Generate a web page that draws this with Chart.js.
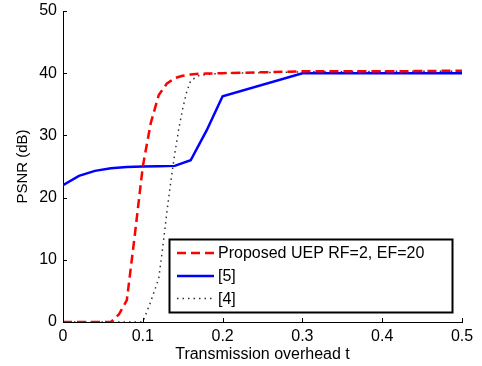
<!DOCTYPE html>
<html>
<head>
<meta charset="utf-8">
<script src="https://cdn.jsdelivr.net/npm/chart.js@4"></script>
<style>
  html, body { margin: 0; padding: 0; background: #fff; }
  #wrap { width: 482px; height: 366px; }
</style>
</head>
<body>
<div id="wrap"><canvas id="c" width="482" height="366"></canvas></div>
<script>
// ---- data ----
const xTicks = [0, 0.1, 0.2, 0.3, 0.4, 0.5];
const yTicks = [0, 10, 20, 30, 40, 50];

const proposedT    = [0, 0.02, 0.04, 0.06, 0.07, 0.08, 0.09, 0.10, 0.11, 0.12, 0.13, 0.14, 0.15, 0.16, 0.17, 0.18, 0.20, 0.30, 0.40, 0.50];
const proposedPSNR = [0, 0, 0, 0, 1.2, 3.5, 14, 25, 32, 36.5, 38.3, 39.2, 39.6, 39.8, 39.9, 39.95, 40.0, 40.3, 40.3, 40.4];

const ref5T    = [0, 0.02, 0.04, 0.06, 0.08, 0.10, 0.12, 0.14, 0.16, 0.18, 0.20, 0.30, 0.40, 0.50];
const ref5PSNR = [22, 23.5, 24.3, 24.7, 24.9, 25.0, 25.05, 25.1, 26.0, 30.8, 36.3, 40.0, 40.0, 40.0];

const ref4T    = [0, 0.05, 0.10, 0.11, 0.12, 0.125, 0.13, 0.135, 0.14, 0.145, 0.15, 0.155, 0.16, 0.17, 0.18, 0.20, 0.30, 0.40, 0.50];
const ref4PSNR = [0, 0, 0, 3.3, 7, 12, 17.5, 22.5, 27, 31, 34.3, 37, 38.8, 39.6, 39.8, 40.0, 40.2, 40.3, 40.3];

const seriesLabels = ['Proposed UEP RF=2, EF=20', '[5]', '[4]'];

const toPts = (xs, ys) => xs.map((x, i) => ({ x: x, y: ys[i] }));

const FONT = '"Liberation Sans", Arial, Helvetica, sans-serif';

// inward ticks, MATLAB-like
const inwardTicks = {
  id: 'inwardTicks',
  afterDatasetsDraw(chart) {
    const { ctx, chartArea: a, scales: { x, y } } = chart;
    ctx.save();
    ctx.strokeStyle = '#000';
    ctx.lineWidth = 1;
    ctx.beginPath();
    x.ticks.forEach(t => {
      const px = Math.round(x.getPixelForValue(t.value)) + 0.5;
      ctx.moveTo(px, a.bottom);
      ctx.lineTo(px, a.bottom - 4);
    });
    y.ticks.forEach(t => {
      const py = Math.round(y.getPixelForValue(t.value)) + 0.5;
      ctx.moveTo(a.left, py);
      ctx.lineTo(a.left + 4, py);
    });
    ctx.stroke();
    ctx.restore();
  }
};

// MATLAB-like legend box inside the axes
const boxLegend = {
  id: 'boxLegend',
  afterDatasetsDraw(chart) {
    const { ctx } = chart;
    const bx = 169.5, by = 239.5, bw = 283, bh = 73;
    ctx.save();
    ctx.fillStyle = '#fff';
    ctx.fillRect(bx, by, bw, bh);
    ctx.strokeStyle = '#000';
    ctx.lineWidth = 2;
    ctx.strokeRect(bx, by, bw, bh);
    const rows = [253, 276, 298.5];
    chart.data.datasets.forEach((ds, i) => {
      const yy = rows[i];
      ctx.beginPath();
      ctx.strokeStyle = ds.borderColor;
      ctx.lineWidth = ds.borderWidth;
      ctx.setLineDash(ds.borderDash || []);
      ctx.moveTo(177, yy);
      ctx.lineTo(214, yy);
      ctx.stroke();
      ctx.setLineDash([]);
      ctx.fillStyle = '#000';
      ctx.font = '16px ' + FONT;
      ctx.textBaseline = 'middle';
      ctx.textAlign = 'left';
      ctx.fillText(ds.label, 218, yy + 1);
    });
    ctx.restore();
  }
};

new Chart(document.getElementById('c'), {
  type: 'line',
  data: {
    datasets: [
      {
        label: seriesLabels[0],
        data: toPts(proposedT, proposedPSNR),
        borderColor: '#ff0000',
        borderWidth: 2.5,
        borderDash: [9, 5],
        pointRadius: 0,
        fill: false,
        tension: 0
      },
      {
        label: seriesLabels[1],
        data: toPts(ref5T, ref5PSNR),
        borderColor: '#0000ff',
        borderWidth: 2.5,
        pointRadius: 0,
        fill: false,
        tension: 0
      },
      {
        label: seriesLabels[2],
        data: toPts(ref4T, ref4PSNR),
        borderColor: '#333333',
        borderWidth: 1.5,
        borderDash: [1.5, 4],
        pointRadius: 0,
        fill: false,
        tension: 0
      }
    ]
  },
  options: {
    responsive: false,
    animation: false,
    devicePixelRatio: 1,
    layout: { padding: { left: 0, right: 20, top: 11, bottom: 0 } },
    plugins: {
      legend: { display: false },
      tooltip: { enabled: false }
    },
    scales: {
      x: {
        type: 'linear',
        min: 0, max: 0.5,
        afterBuildTicks: (s) => { s.ticks = xTicks.map(v => ({ value: v })); },
        afterFit: (s) => { s.height = 44; s.paddingLeft = 0; s.paddingRight = 0; },
        grid: { display: false, drawTicks: false },
        border: { display: true, color: '#000', width: 1 },
        ticks: {
          color: '#000',
          padding: 5,
          font: { family: FONT, size: 16 },
          callback: (v) => String(v)
        },
        title: {
          display: true,
          text: 'Transmission overhead t',
          color: '#000',
          font: { family: FONT, size: 16 },
          padding: { top: 0, bottom: 2 }
        }
      },
      y: {
        type: 'linear',
        min: 0, max: 50,
        afterBuildTicks: (s) => { s.ticks = yTicks.map(v => ({ value: v })); },
        afterFit: (s) => { s.width = 63; s.paddingTop = 0; s.paddingBottom = 0; },
        grid: { display: false, drawTicks: false },
        border: { display: true, color: '#000', width: 1 },
        ticks: {
          color: '#000',
          padding: 6,
          font: { family: FONT, size: 16 },
          callback: (v) => String(v)
        },
        title: {
          display: true,
          text: 'PSNR (dB)',
          color: '#000',
          font: { family: FONT, size: 15 },
          padding: { top: 14, bottom: 0 }
        }
      }
    }
  },
  plugins: [inwardTicks, boxLegend]
});
</script>
</body>
</html>
